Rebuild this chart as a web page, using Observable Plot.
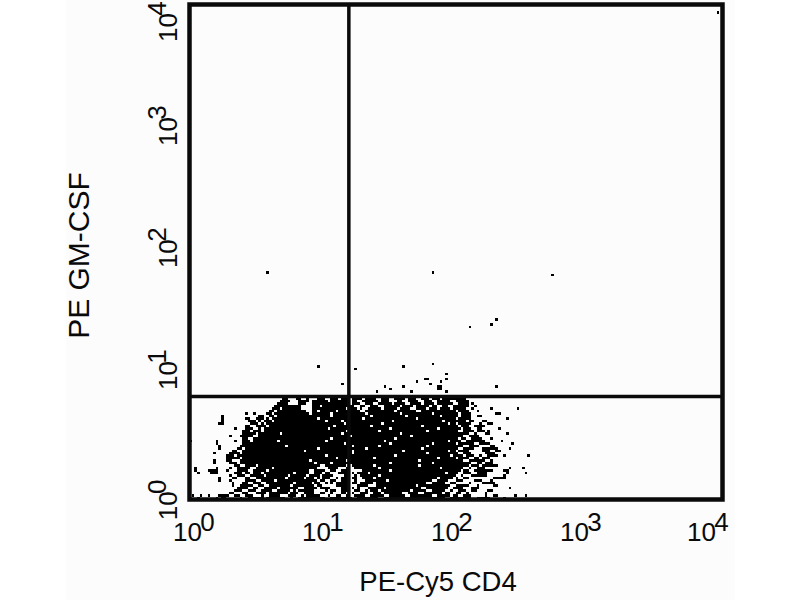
<!DOCTYPE html>
<html>
<head>
<meta charset="utf-8">
<script src="https://cdn.jsdelivr.net/npm/d3@7"></script>
<script src="https://cdn.jsdelivr.net/npm/@observablehq/plot@0.6"></script>
<style>
html,body{margin:0;padding:0;background:#fff;}
#panel{position:absolute;left:66px;top:0;width:669px;height:600px;background:#fcfcfc;}
#chart{position:absolute;left:0;top:0;}
svg{background:transparent !important;display:block;}
</style>
</head>
<body>
<div id="panel"></div>
<div id="chart"></div>
<script>
const channelsPerDecade = 50;
const xLabel = "PE-Cy5 CD4";
const yLabel = "PE GM-CSF";
const exponents = ["0","1","2","3","4"];
const xLabelAt = [0.966, 8.98, 83.4, 775, 6953];
const yLabelAt = [0.89, 10.06, 97, 942, 6516];
const gateX = 15.7;
const gateY = 6.8;

// occupied channels of the dot plot, one string per y channel, starting at channel 0
const occupied = [
"3 10 12-13 19 22-27 29-35 38 41-50 53-60 63-70 73-95 98-105 108-112 118",
"1 4 7 11-14 17-18 21-23 27 30-33 37-39 42 44-48 52 55-56 59 62-65 68-72 75-80 83-90 93-97 99-100 103-105 111 114-115 122 126",
"15-16 20-21 25-28 30-36 38-40 43-46 49-50 53 57-58 61 64-66 69-71 73-79 82-85 88-94 96-97 100-101 104 111",
"17-19 22-24 27-30 33-37 39 41-46 51 53-54 57-59 62-63 66 68-70 72-82 84-88 91-95 98 101-103 106-107 112-113",
"18-21 24-25 28-32 34-40 43-47 49-52 57-59 61 63 67-72 74-86 89-96 99-102 106-108 120",
"16 19-23 26-27 30-37 39-46 48-49 55-59 63-66 70-84 86-97 100-104 108 114-115",
"16 20-21 24-26 29-38 40-45 47-48 51 53 55-59 61-62 64-68 70-88 91-95 98-99 105 110-114",
"11 15 21-24 27-31 33-47 49-50 53-54 57-59 62 66-73 75-90 93-96 100-102 107-109 113",
"11 16-17 21-22 25-35 37-42 44-46 48 50-52 55 57-59 61-62 65-68 70-92 94-98 100 103-104 114-118",
"15 18-20 23-27 29-36 38-43 45-48 50-53 58-59 62 64-70 72-99 102 106-111 118",
"3 8-10 17-19 21-22 24-26 28-38 40-44 47-49 51-52 56-59 61 63-66 68-95 97-100 103-105 108-111 119 126",
"2 7-10 14 18-21 24-28 30-44 47-50 53-54 57-59 65-74 76-101 103-104 107-113 118-119",
"2 10 15 18-22 25-30 32-47 52-55 59 62-70 72-93 95-102 105 108-110 120 125",
"17-18 21-24 26-48 51-58 61-68 70-85 87-104 106-108 110-115",
"9 15-17 19-46 48-52 54-74 76-90 92-105 108-109 111-113",
"9 14-15 19-44 46-58 60-85 87-102 105-110 113",
"14-18 20-54 56-68 70-92 94-99 101-104 107-108 110-112",
"14-16 18-50 52-76 78-97 99-102 104-106 109 112-115 118 127",
"9 15-18 20-60 62-88 90-100 103-105 111-114",
"16-17 20-42 44-60 62-79 81-96 98-99 101-104 110-112 115-116",
"11 18-19 21-47 49-65 67-86 88-100 103-106 110-115 120",
"11 19-35 37-60 62-70 72-88 90-102 105-108 113-114",
"10 20-57 59-74 76-90 92-99 101-106 109-112 121",
"0 10 17 20-22 24-32 34-50 52-72 74-96 98-101 104-110 117",
"20-21 24-52 54-76 78-100 102-103 106-109 113",
"15 19-23 26-59 61-82 84-102 105-108",
"20-24 26-33 35-56 58-78 80-104 107 111-112 119",
"20-22 24-26 28-58 60-70 72-88 90-100 103-106 108-110 112",
"17 21-23 26 28-51 53-74 76-92 94-101 103-105 108-109 116",
"21-22 25-28 30-53 55-67 69-86 88-100 102-104 107-110",
"11-12 23-25 27 29-57 59-71 73-96 98-99 101-105 109 112-113",
"12 22-24 26 28-30 32-50 52-56 58-75 77-94 96-103 105-106 110-111",
"12 21-22 25-27 29 31-47 49-64 66-84 86-99 101-105 119",
"12 26-27 30-31 33-52 54-67 69-80 82-93 95-100 102-105 108-109",
"21 24 29-30 32-44 46-52 54-65 67-78 80-90 92-100 102-105 115-116",
"30-31 33-43 46-47 49-54 56-63 66-76 78-84 87-99 101-104 108",
"31-33 35-41 46-58 60-62 64 67-71 73-77 79-82 85-88 90-92 94-97 99-103 106 113 123",
"32-38 39-41 46-48 50-59 60-61 64-65 68-70 73-78 80-83 85-89 91-92 95-96 99-104 107",
"33-36 41-43 46-59 61-63 66-68 71-75 77-80 83-86 88-91 93-98 101-104 106",
"34-37 41-44 46-51 53-59 61-62 65-70 72-74 78-79 82-85 88-90 93-97 100-104",
"35-36 40-41 44 48-50 53-55 57-59 61-64 66-69 72-74 77-80 82-84 87-89 91-93 95-99 100-103"
];
// isolated events above the horizontal gate, [x channel, y channel]
const outliers = [
[29,91],[91,91],[136,90],[105,69],[115,72],[113,70],[198,196],[48,53],[57,46],[62,52],
[80,53],[91,54],[96,50],[96,48],[88,48],[89,48],[85,47],[90,46],[94,47],[93,44],[94,44],[93,45],[94,45],
[96,43],[73,45],[75,44],[80,45],[70,43],[115,45],[83,43]
];

const val = c => Math.pow(10, c / channelsPerDecade);
const cells = [];
occupied.forEach((line, r) => {
  line.split(" ").forEach(tok => {
    const [a, b] = tok.split("-").map(Number);
    cells.push({x1: val(a), x2: val((b === undefined ? a : b) + 1), y1: val(r), y2: val(r + 1)});
  });
});
outliers.forEach(([c, r]) => cells.push({x1: val(c), x2: val(c + 1), y1: val(r), y2: val(r + 1)}));

const xTicks = xLabelAt.map((v, i) => ({v, e: exponents[i]}));
const yTicks = yLabelAt.map((v, i) => ({v, e: exponents[i]}));
const font = "'Liberation Sans', Arial, sans-serif";
const ink = "#0a0a0a";

const chart = Plot.plot({
  width: 800, height: 600,
  marginLeft: 189, marginRight: 78, marginTop: 4, marginBottom: 101,
  style: {fontFamily: font, background: "transparent"},
  x: {type: "log", domain: [1, 10000], axis: null},
  y: {type: "log", domain: [1, 10000], axis: null},
  marks: [
    Plot.rect(cells, {x1: "x1", x2: "x2", y1: "y1", y2: "y2", fill: "black", shapeRendering: "crispEdges"}),
    Plot.ruleX([gateX], {stroke: ink, strokeWidth: 3.5}),
    Plot.ruleY([gateY], {stroke: ink, strokeWidth: 3.5}),
    Plot.frame({stroke: ink, strokeWidth: 4.5}),
    // x tick labels
    Plot.text(xTicks, {x: "v", frameAnchor: "bottom", lineAnchor: "bottom", dy: 41, text: () => "10", fontSize: 26, fill: ink}),
    Plot.text(xTicks, {x: "v", frameAnchor: "bottom", lineAnchor: "bottom", dy: 31, dx: 20, text: "e", fontSize: 26, fill: ink}),
    // y tick labels
    Plot.text(yTicks, {y: "v", frameAnchor: "left", textAnchor: "middle", lineAnchor: "bottom", rotate: -90, dx: -13, text: () => "10", fontSize: 26, fill: ink}),
    Plot.text(yTicks, {y: "v", frameAnchor: "left", textAnchor: "middle", lineAnchor: "bottom", rotate: -90, dx: -24, dy: -19, text: "e", fontSize: 26, fill: ink}),
    // axis titles
    Plot.text([xLabel], {frameAnchor: "bottom", lineAnchor: "bottom", dy: 91, dx: -18, text: d => d, fontSize: 27.5, fill: ink}),
    Plot.text([yLabel], {frameAnchor: "left", textAnchor: "middle", lineAnchor: "bottom", rotate: -90, dx: -101, dy: 3.5, text: d => d, fontSize: 30, fill: ink})
  ]
});
document.getElementById("chart").appendChild(chart);
</script>
</body>
</html>
